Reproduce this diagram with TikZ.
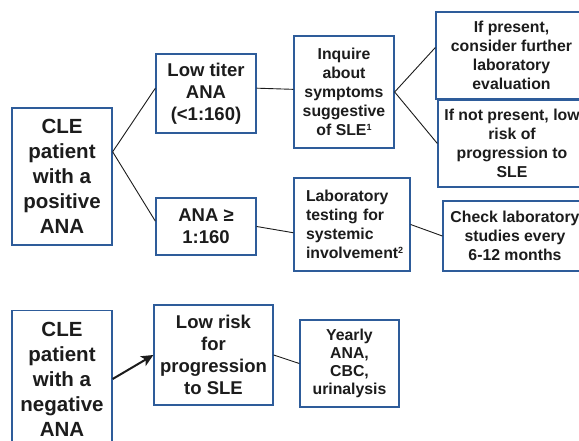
\documentclass[tikz,border=0pt]{standalone}
\usepackage{fontspec}
\setmainfont{Liberation Sans}
\usetikzlibrary{arrows.meta}
\definecolor{boxblue}{RGB}{46,92,154}
\definecolor{ink}{RGB}{28,28,28}
\newcommand{\fnmark}[1]{\raisebox{5pt}{\fontsize{9}{9}\selectfont #1}}
\begin{document}
\begin{tikzpicture}[x=1pt,y=-1pt,>={Stealth[length=12pt,width=11pt,inset=3pt]},
	box/.style={draw=boxblue,line width=1.3pt,fill=white,inner sep=0pt,text=ink,align=center,font=\bfseries},
	big/.style={box,font=\bfseries\fontsize{20.5}{25}\selectfont},
	mid/.style={box,font=\bfseries\fontsize{18.5}{22}\selectfont},
	small/.style={box,font=\bfseries\fontsize{15.8}{19}\selectfont},
	link/.style={draw=ink,line width=0.9pt}]
	\clip (0,0) rectangle (579,441);
	\fill[white] (0,0) rectangle (579,441);
	\node[big,minimum width=100pt,minimum height=137pt] (pos) at (62,176.5) {CLE\\patient\\with a\\positive\\ANA};
	\node[mid,minimum width=100pt,minimum height=79pt] (low) at (206,93.5) {Low titer\\ANA\\(<1:160)};
	\node[mid,minimum width=100pt,minimum height=57pt] (high) at (206,226.5) {ANA ≥\\1:160};
	\node[small,minimum width=100pt,minimum height=112pt] (ask) at (344,92) {Inquire\\about\\symptoms\\suggestive\\of SLE\fnmark{1}};
	\node[small,minimum width=151pt,minimum height=87pt] (yes) at (511.5,55.5) {If present,\\consider further\\laboratory\\evaluation};
	\node[small,minimum width=148pt,minimum height=87pt] (no) at (512,143.5) {If not present, low\\risk of\\progression to\\SLE};
	\node[small,align=left,minimum width=116pt,minimum height=93pt,text width=92pt] (lab) at (352,224.5) {Laboratory\\testing for\\systemic\\involvement\fnmark{2}};
	\node[small,minimum width=144pt,minimum height=70pt] (check) at (515,236) {Check laboratory\\studies every\\6-12 months};
	\node[big,minimum width=100pt,minimum height=137pt] (neg) at (62,379) {CLE\\patient\\with a\\negative\\ANA};
	\node[mid,minimum width=119pt,minimum height=100pt] (risk) at (213.5,355) {Low risk\\for\\progression\\to SLE};
	\node[small,font=\bfseries\fontsize{15.8}{18}\selectfont,minimum width=99pt,minimum height=87pt] (year) at (349.5,363.5) {Yearly\\ANA,\\CBC,\\urinalysis};
	\draw[link] (pos.26) -- (low.174);
	\draw[link] (pos.26) -- (high.174);
	\draw[link] (low.6) -- (ask.177);
	\draw[link] (ask.east) -- (yes.174);
	\draw[link] (ask.east) -- (no.west);
	\draw[link] (high.east) -- (lab.188);
	\draw[link] (lab.east) -- (check.west);
	\draw[link] (risk.east) -- (year.west);
	\draw[->,draw=ink,fill=ink,line width=2pt] (neg.east) -- (risk.west);
\end{tikzpicture}
\end{document}
